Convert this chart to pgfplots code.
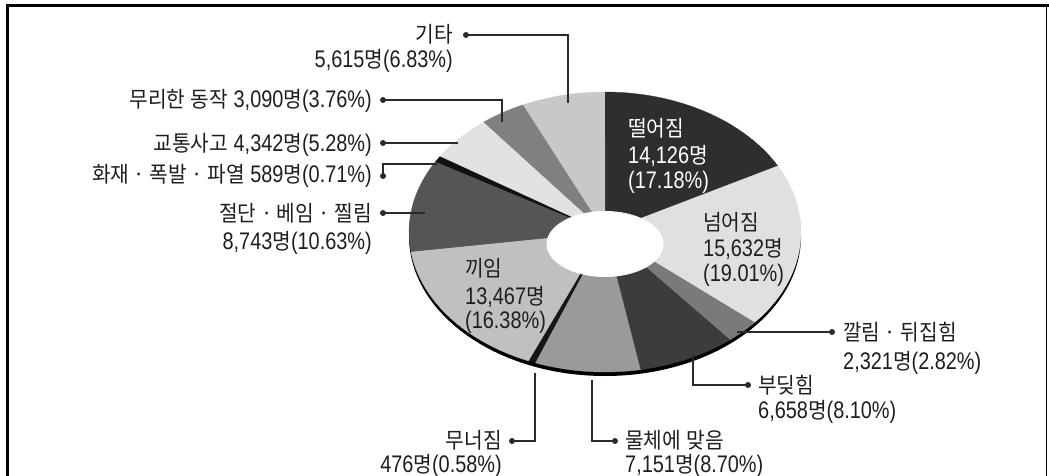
\documentclass[border=0pt]{standalone}
\usepackage{pgfplots}
\usepackage{pgfplotstable}
\pgfplotsset{compat=1.18}
\usepackage{fontspec}
\setmainfont{Noto Sans CJK KR}[FakeStretch=0.92]
\newfontfamily\nf{Liberation Sans}[FakeStretch=0.83, Scale=1.09]

\definecolor{c1}{HTML}{2E2E2E}
\definecolor{c2}{HTML}{E0E0E0}
\definecolor{c3}{HTML}{7A7A7A}
\definecolor{c4}{HTML}{3C3C3C}
\definecolor{c5}{HTML}{9A9A9A}
\definecolor{c6}{HTML}{161616}
\definecolor{c7}{HTML}{C0C0C0}
\definecolor{c8}{HTML}{555555}
\definecolor{c9}{HTML}{111111}
\definecolor{c10}{HTML}{E2E2E2}
\definecolor{c11}{HTML}{808080}
\definecolor{c12}{HTML}{C8C8C8}
\definecolor{ldr}{HTML}{2A2A2A}
\definecolor{txt}{HTML}{1E1E1E}

\tikzset{
  lbl/.style={font=\fontsize{22}{26}\selectfont, text=txt, inner sep=0pt},
  ld/.style={draw=ldr, line width=1.2pt},
}

% share of each category, clockwise from 12 o'clock
\pgfplotstableread[col sep=comma]{
name,value,pct,col
떨어짐,14126,17.18,c1
넘어짐,15632,19.01,c2
깔림뒤집힘,2321,2.82,c3
부딪힘,6658,8.10,c4
물체에맞음,7151,8.70,c5
무너짐,476,0.58,c6
끼임,13467,16.38,c7
절단베임찔림,8743,10.63,c8
화재폭발파열,589,0.71,c9
교통사고,4342,5.28,c10
무리한동작,3090,3.76,c11
기타,5615,6.83,c12
}\piedata

\begin{document}
\begin{tikzpicture}
\begin{axis}[
  at={(0,0)}, anchor=south west,
  x=1pt, y=1pt, y dir=reverse,
  xmin=0, xmax=1049, ymin=0, ymax=476,
  hide axis, clip=false,
]
\pgfplotsextra{%
  % 3D rim of the disc
  \fill[black] (axis cs:605,236) ellipse[x radius=196pt, y radius=140pt];
  \gdef\cum{0}%
  \foreach \i in {0,...,11} {%
    \pgfplotstablegetelem{\i}{pct}\of\piedata \let\p\pgfplotsretval
    \pgfplotstablegetelem{\i}{col}\of\piedata \let\c\pgfplotsretval
    \pgfmathsetmacro\a{90-3.6*\cum}%
    \pgfmathsetmacro\b{90-3.6*(\cum+\p)}%
    \fill[fill=\c, draw=\c, line width=0.3pt] (axis cs:605,232) -- ++(\a:196pt and 140pt)
      arc[start angle=\a, end angle=\b, x radius=196pt, y radius=140pt] -- cycle;
    \pgfmathsetmacro\newcum{\cum+\p}\global\let\cum\newcum
  }%
  \fill[white] (axis cs:605,244) ellipse[x radius=58.5pt, y radius=33pt];
  % frame
  \draw[black, line width=3pt] (axis cs:6,5.5) -- (axis cs:1049,5.5);
  \draw[black, line width=3pt] (axis cs:7.5,4) -- (axis cs:7.5,476);
  \draw[black, line width=1.5pt] (axis cs:1046.5,4) -- (axis cs:1046.5,476);
  % leader lines
  \draw[ld] (axis cs:466,35) -- (axis cs:568,35) -- (axis cs:568,103);
  \draw[ld] (axis cs:383,100) -- (axis cs:502,100) -- (axis cs:502,122);
  \draw[ld] (axis cs:383,143) -- (axis cs:458,143);
  \draw[ld] (axis cs:383,176) -- (axis cs:383,164) -- (axis cs:437,164);
  \draw[ld] (axis cs:383,213) -- (axis cs:425,213);
  \draw[ld] (axis cs:832,332) -- (axis cs:737,332);
  \draw[ld] (axis cs:748,385) -- (axis cs:693,385) -- (axis cs:693,355);
  \draw[ld] (axis cs:615,441) -- (axis cs:592,441) -- (axis cs:592,380);
  \draw[ld] (axis cs:512,441) -- (axis cs:535,441) -- (axis cs:535,373);
  \foreach \x/\y in {466/35,383/100,383/143,383/176,383/213,832/332,748/385,615/441,512/441}
    \fill[ldr] (axis cs:\x,\y) circle[radius=3pt];
}
% outer labels, left side
\node[lbl, anchor=base east] at (axis cs:453,43) {기타};
\node[lbl, anchor=base east] at (axis cs:453,68) {{\nf 5,615}명{\nf (6.83\%)}};
\node[lbl, anchor=base east] at (axis cs:372,108) {무리한{\nf\ }동작{\nf\ 3,090}명{\nf (3.76\%)}};
\node[lbl, anchor=base east] at (axis cs:372,151) {교통사고{\nf\ 4,342}명{\nf (5.28\%)}};
\node[lbl, anchor=base east] at (axis cs:372,182) {화재 · 폭발 · 파열{\nf\ 589}명{\nf (0.71\%)}};
\node[lbl, anchor=base east] at (axis cs:372,221) {절단 · 베임 · 찔림};
\node[lbl, anchor=base east] at (axis cs:372,249) {{\nf 8,743}명{\nf (10.63\%)}};
\node[lbl, anchor=base east] at (axis cs:502,448) {무너짐};
\node[lbl, anchor=base east] at (axis cs:502,472) {{\nf 476}명{\nf (0.58\%)}};
% outer labels, right side
\node[lbl, anchor=base west] at (axis cs:843,340) {깔림 · 뒤집힘};
\node[lbl, anchor=base west] at (axis cs:843,369) {{\nf 2,321}명{\nf (2.82\%)}};
\node[lbl, anchor=base west] at (axis cs:758,393) {부딪힘};
\node[lbl, anchor=base west] at (axis cs:758,418) {{\nf 6,658}명{\nf (8.10\%)}};
\node[lbl, anchor=base west] at (axis cs:625,448) {물체에{\nf\ }맞음};
\node[lbl, anchor=base west] at (axis cs:625,472) {{\nf 7,151}명{\nf (8.70\%)}};
% inner labels
\node[lbl, text=white, anchor=base west] at (axis cs:628,136) {떨어짐};
\node[lbl, text=white, anchor=base west] at (axis cs:628,163) {{\nf 14,126}명};
\node[lbl, text=white, anchor=base west] at (axis cs:628,188) {{\nf (17.18\%)}};
\node[lbl, anchor=base west] at (axis cs:703,230) {넘어짐};
\node[lbl, anchor=base west] at (axis cs:703,256) {{\nf 15,632}명};
\node[lbl, anchor=base west] at (axis cs:703,281) {{\nf (19.01\%)}};
\node[lbl, anchor=base west] at (axis cs:465,276) {끼임};
\node[lbl, anchor=base west] at (axis cs:465,304) {{\nf 13,467}명};
\node[lbl, anchor=base west] at (axis cs:465,328) {{\nf (16.38\%)}};
\end{axis}
\pgfresetboundingbox
\path (0,0) rectangle (1049pt,476pt);
\end{tikzpicture}
\end{document}
